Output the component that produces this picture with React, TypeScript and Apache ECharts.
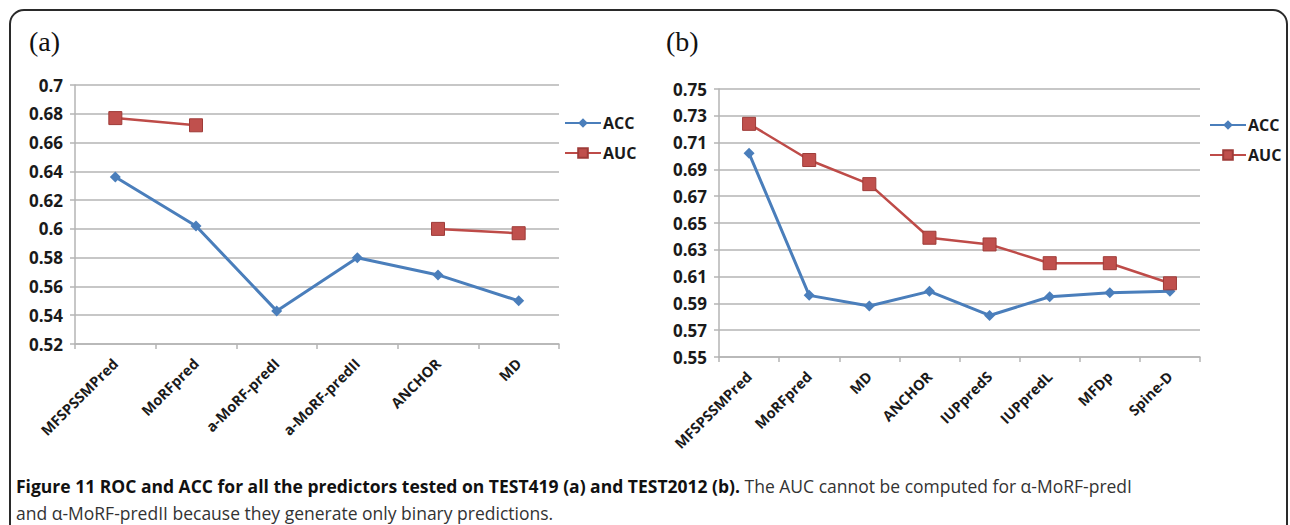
import React, { useEffect, useRef } from "react";
import * as echarts from "echarts";

const categoriesA = ["MFSPSSMPred", "MoRFpred", "a-MoRF-predI", "a-MoRF-predII", "ANCHOR", "MD"];
const accA = [0.636, 0.602, 0.543, 0.58, 0.568, 0.55];
const aucA: (number | null)[] = [0.677, 0.672, null, null, 0.6, 0.597];

const categoriesB = ["MFSPSSMPred", "MoRFpred", "MD", "ANCHOR", "IUPpredS", "IUPpredL", "MFDp", "Spine-D"];
const accB = [0.702, 0.596, 0.588, 0.599, 0.581, 0.595, 0.598, 0.599];
const aucB = [0.724, 0.697, 0.679, 0.639, 0.634, 0.62, 0.62, 0.605];

const seriesNames = ["ACC", "AUC"];
const panelLabels = ["(a)", "(b)"];
const captionBold = "Figure 11 ROC and ACC for all the predictors tested on TEST419 (a) and TEST2012 (b).";
const captionNormal1 = " The AUC cannot be computed for α-MoRF-predI";
const captionNormal2 = "and α-MoRF-predII because they generate only binary predictions.";

const BLUE = "#4A7EBB";
const RED = "#BE4B48";
const GRID = "#b5b5b5";
const TXT = "#1a1a1a";
const FONT = "Open Sans";

export default function App() {
  const ref = useRef<HTMLDivElement>(null);
  useEffect(() => {
    if (!ref.current) return;
    const chart = echarts.init(ref.current, undefined, { renderer: "svg" });
    const fmt = (v: number) => String(parseFloat(v.toFixed(2)));
    const yAxisBase = {
      type: "value" as const,
      axisLine: { show: true, lineStyle: { color: GRID, width: 1.5 } },
      axisTick: { show: true, length: 5, lineStyle: { color: GRID, width: 1.5 } },
      splitLine: { show: true, lineStyle: { color: GRID, width: 1.5 } },
      axisLabel: { formatter: fmt, color: TXT, fontFamily: FONT, fontWeight: "bold", fontSize: 17, margin: 12 },
    };
    const xAxisBase = {
      type: "category" as const,
      boundaryGap: true,
      axisLine: { show: true, lineStyle: { color: GRID, width: 1.5 } },
      axisTick: { show: true, length: 5, lineStyle: { color: GRID, width: 1.5 } },
      axisLabel: { rotate: 45, interval: 0, color: TXT, fontFamily: FONT, fontWeight: "bold", fontSize: 14.5, margin: 17 },
    };
    const accStyle = (xi: number) => ({
      type: "line" as const,
      name: seriesNames[0],
      xAxisIndex: xi,
      yAxisIndex: xi,
      symbol: "diamond",
      symbolSize: 11,
      lineStyle: { color: BLUE, width: 3 },
      itemStyle: { color: BLUE },
    });
    const aucStyle = (xi: number) => ({
      type: "line" as const,
      name: seriesNames[1],
      xAxisIndex: xi,
      yAxisIndex: xi,
      symbol: "rect",
      symbolSize: 13,
      connectNulls: false,
      lineStyle: { color: RED, width: 2.5 },
      itemStyle: { color: "#C0504D", borderColor: "#9E3B38", borderWidth: 1 },
    });
    const legendBase = {
      orient: "vertical" as const,
      itemWidth: 36,
      itemHeight: 12,
      itemGap: 14,
      textStyle: { color: TXT, fontFamily: FONT, fontWeight: "bold", fontSize: 16, padding: [0, 0, 0, -3] },
      data: seriesNames,
    };
    chart.setOption({
      animation: false,
      grid: [
        { left: 75, top: 85, width: 484, height: 259 },
        { left: 719, top: 89, width: 481, height: 268 },
      ],
      xAxis: [
        { ...xAxisBase, gridIndex: 0, data: categoriesA },
        { ...xAxisBase, gridIndex: 1, data: categoriesB },
      ],
      yAxis: [
        { ...yAxisBase, gridIndex: 0, min: 0.52, max: 0.7, interval: 0.02 },
        { ...yAxisBase, gridIndex: 1, min: 0.55, max: 0.75, interval: 0.02 },
      ],
      legend: [
        { ...legendBase, left: 559, top: 110 },
        { ...legendBase, left: 1204, top: 112 },
      ],
      series: [
        { ...accStyle(0), data: accA },
        { ...aucStyle(0), data: aucA },
        { ...accStyle(1), data: accB },
        { ...aucStyle(1), data: aucB },
      ],
      graphic: [
        {
          type: "rect",
          shape: { x: 10, y: 10, width: 1277, height: 620, r: 14 },
          style: { fill: "none", stroke: "#2a2a2a", lineWidth: 2 },
          silent: true,
        },
        {
          type: "text",
          x: 29,
          y: 27,
          style: { text: panelLabels[0], font: '28px "Liberation Serif"', fill: "#111" },
        },
        {
          type: "text",
          x: 666,
          y: 27,
          style: { text: panelLabels[1], font: '28px "Liberation Serif"', fill: "#111" },
        },
        {
          type: "text",
          x: 16,
          y: 477,
          style: {
            text: "{b|" + captionBold + "}{n|" + captionNormal1 + "}",
            rich: {
              b: { fontFamily: "Open Sans", fontWeight: "bold", fontSize: 17.5, fill: "#111" },
              n: { fontFamily: "Open Sans", fontSize: 17.5, fill: "#333" },
            },
          },
        },
        {
          type: "text",
          x: 16,
          y: 504,
          style: { text: captionNormal2, fontFamily: "Open Sans", fontSize: 17.5, fill: "#333" },
        },
      ],
    });
    return () => chart.dispose();
  }, []);
  return <div ref={ref} style={{ position: "fixed", left: 0, top: 0, width: 1290, height: 525, background: "#fff" }} />;
}
